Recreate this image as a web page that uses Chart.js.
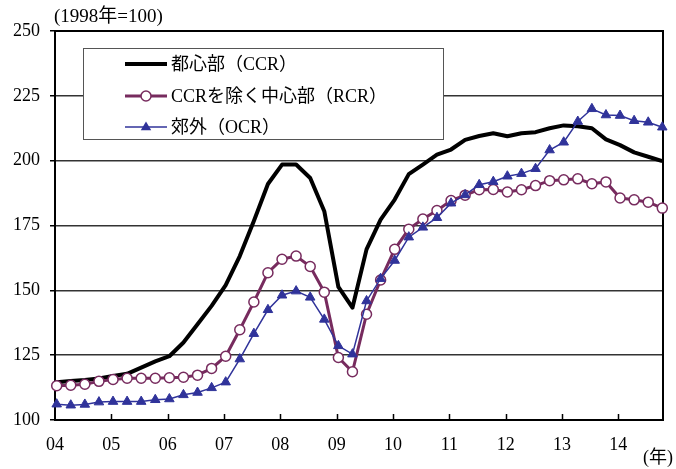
<!DOCTYPE html>
<html><head><meta charset="utf-8">
<script src="https://cdn.jsdelivr.net/npm/chart.js@4/dist/chart.umd.min.js"></script>
<style>html,body{margin:0;padding:0;background:#fff;}#wrap{width:676px;height:469px;}</style>
</head><body><div id="wrap"><canvas id="c" width="676" height="469"></canvas></div>
<script>
// Year tick labels (each year = 4 quarterly observations, 2004Q1 .. 2014Q4)
const yearLabels = ['04','05','06','07','08','09','10','11','12','13','14'];
const seriesNames = ['都心部（CCR）', 'CCRを除く中心部（RCR）', '郊外（OCR）'];
const ccr = [114.6,115.0,115.4,116.0,117.0,117.8,120.2,122.6,124.6,129.9,
             136.9,144.0,152.0,163.2,176.7,191.0,198.5,198.5,193.3,180.5,
             151.3,143.3,165.8,177.3,185.0,194.8,198.5,202.3,204.3,208.0,
             209.5,210.6,209.4,210.6,211.0,212.5,213.6,213.3,212.5,208.2,
             206.0,203.2,201.5,199.8];
const rcr = [113.2,113.4,113.8,114.9,115.6,116.1,116.1,116.1,116.3,116.5,
             117.3,119.9,124.6,134.8,145.5,156.8,162.0,163.2,159.2,149.3,
             124.1,118.6,140.8,154.0,165.8,173.6,177.5,180.8,184.6,186.7,
             188.8,188.9,187.9,188.8,190.4,192.3,192.6,193.0,191.1,191.8,
             185.6,184.9,184.0,181.7];
const ocr = [106.1,105.7,106.0,106.9,107.1,107.1,107.1,107.8,108.1,109.7,
             110.6,112.4,114.6,123.5,133.3,142.5,148.1,149.7,147.3,138.8,
             128.6,125.4,145.9,154.5,161.5,170.5,174.3,178.0,183.6,186.8,
             190.7,191.9,194.0,195.0,196.9,204.1,207.1,215.1,220.0,217.6,
             217.4,215.4,214.8,212.9];
const yTicks = [100,125,150,175,200,225,250];

const FONT = '"Liberation Serif","Times New Roman","Noto Sans CJK JP",serif';
const TICK_SHIFT = -0.12; // year boundary sits slightly left of first quarter point
const COL_CCR = '#000000', COL_RCR = '#772B5E', COL_OCR = '#30339A';

const toPts = arr => arr.map((v, i) => ({x: i, y: v}));

const framePlugin = {
  id: 'frame',
  beforeDatasetsDraw(chart) {
    const {ctx, chartArea: a, scales} = chart;
    ctx.save();
    ctx.strokeStyle = '#000';
    ctx.lineWidth = 1.5;
    ctx.beginPath();
    scales.x.ticks.forEach((t, k) => {
      if (k === 0) return;
      const px = Math.round(scales.x.getPixelForValue(t.value)) + 0.5;
      ctx.moveTo(px, a.bottom);
      ctx.lineTo(px, a.bottom - 6);
    });
    ctx.stroke();
    ctx.lineWidth = 2;
    ctx.strokeRect(a.left, a.top, a.right - a.left, a.bottom - a.top);
    ctx.restore();
  },
  afterDraw(chart) {
    const {ctx} = chart;
    ctx.save();
    // unit texts
    ctx.fillStyle = '#000';
    ctx.font = '19px ' + FONT;
    ctx.textBaseline = 'middle';
    ctx.textAlign = 'left';
    ctx.fillText('(1998年=100)', 54, 17);
    ctx.font = '18px ' + FONT;
    ctx.fillText('(年)', 643, 458);
    // legend box
    const bx = 83, by = 48, bw = 360, bh = 91;
    ctx.fillStyle = '#fff';
    ctx.fillRect(bx, by, bw, bh);
    ctx.strokeStyle = '#555';
    ctx.lineWidth = 1;
    ctx.strokeRect(bx + 0.5, by + 0.5, bw, bh);
    const rows = [64, 96, 127];
    chart.data.datasets.forEach((ds, k) => {
      const y = rows[k];
      ctx.strokeStyle = ds.borderColor;
      ctx.lineWidth = ds.borderWidth;
      ctx.beginPath();
      ctx.moveTo(125, y);
      ctx.lineTo(167, y);
      ctx.stroke();
      if (ds.pointStyle === 'circle') {
        ctx.beginPath();
        ctx.arc(146, y, ds.pointRadius, 0, Math.PI * 2);
        ctx.fillStyle = ds.pointBackgroundColor;
        ctx.fill();
        ctx.lineWidth = ds.pointBorderWidth;
        ctx.strokeStyle = ds.pointBorderColor;
        ctx.stroke();
      } else if (ds.pointStyle === 'triangle') {
        const r = ds.pointRadius;
        ctx.beginPath();
        ctx.moveTo(146, y - r);
        ctx.lineTo(146 + r * 0.95, y + r * 0.6);
        ctx.lineTo(146 - r * 0.95, y + r * 0.6);
        ctx.closePath();
        ctx.fillStyle = ds.pointBackgroundColor;
        ctx.fill();
      }
      ctx.fillStyle = '#000';
      ctx.font = '18px ' + FONT;
      ctx.textBaseline = 'middle';
      ctx.fillText(ds.label, 171, y + 1);
    });
    ctx.restore();
  }
};

new Chart(document.getElementById('c'), {
  type: 'line',
  data: {
    datasets: [
      {label: seriesNames[0], data: toPts(ccr), borderColor: COL_CCR, borderWidth: 4,
       pointRadius: 0, pointStyle: false, order: 2, tension: 0, borderJoinStyle: 'round'},
      {label: seriesNames[1], data: toPts(rcr), borderColor: COL_RCR, borderWidth: 3,
       pointStyle: 'circle', pointRadius: 5, pointBackgroundColor: '#fff',
       pointBorderColor: COL_RCR, pointBorderWidth: 1.5, order: 1, tension: 0},
      {label: seriesNames[2], data: toPts(ocr), borderColor: COL_OCR, borderWidth: 1.5,
       pointStyle: 'triangle', pointRadius: 5.5, pointBackgroundColor: COL_OCR,
       pointBorderColor: COL_OCR, pointBorderWidth: 1, order: 0, tension: 0}
    ]
  },
  options: {
    responsive: false,
    animation: false,
    devicePixelRatio: 1,
    clip: false,
    layout: {padding: {top: 31, right: 13, left: 0, bottom: 0}},
    plugins: {legend: {display: false}, tooltip: {enabled: false}, title: {display: false}},
    scales: {
      x: {
        type: 'linear',
        min: TICK_SHIFT,
        max: ccr.length - 1 + 0.05,
        afterBuildTicks: s => { s.ticks = yearLabels.map((l, k) => ({value: 4 * k + TICK_SHIFT})); },
        afterFit: s => { s.height = 49; },
        grid: {display: false, drawTicks: false},
        border: {display: false},
        ticks: {
          autoSkip: false, maxRotation: 0, padding: 14, color: '#000',
          font: {family: FONT, size: 18},
          callback: (v, i) => yearLabels[i]
        }
      },
      y: {
        min: yTicks[0],
        max: yTicks[yTicks.length - 1],
        afterBuildTicks: s => { s.ticks = yTicks.map(v => ({value: v})); },
        afterFit: s => { s.width = 55; },
        grid: {color: '#333', lineWidth: 1.5, tickLength: 5, drawTicks: true, tickColor: '#000'},
        border: {display: false},
        ticks: {padding: 10, color: '#000', font: {family: FONT, size: 18}}
      }
    }
  },
  plugins: [framePlugin]
});
</script>
</body></html>
